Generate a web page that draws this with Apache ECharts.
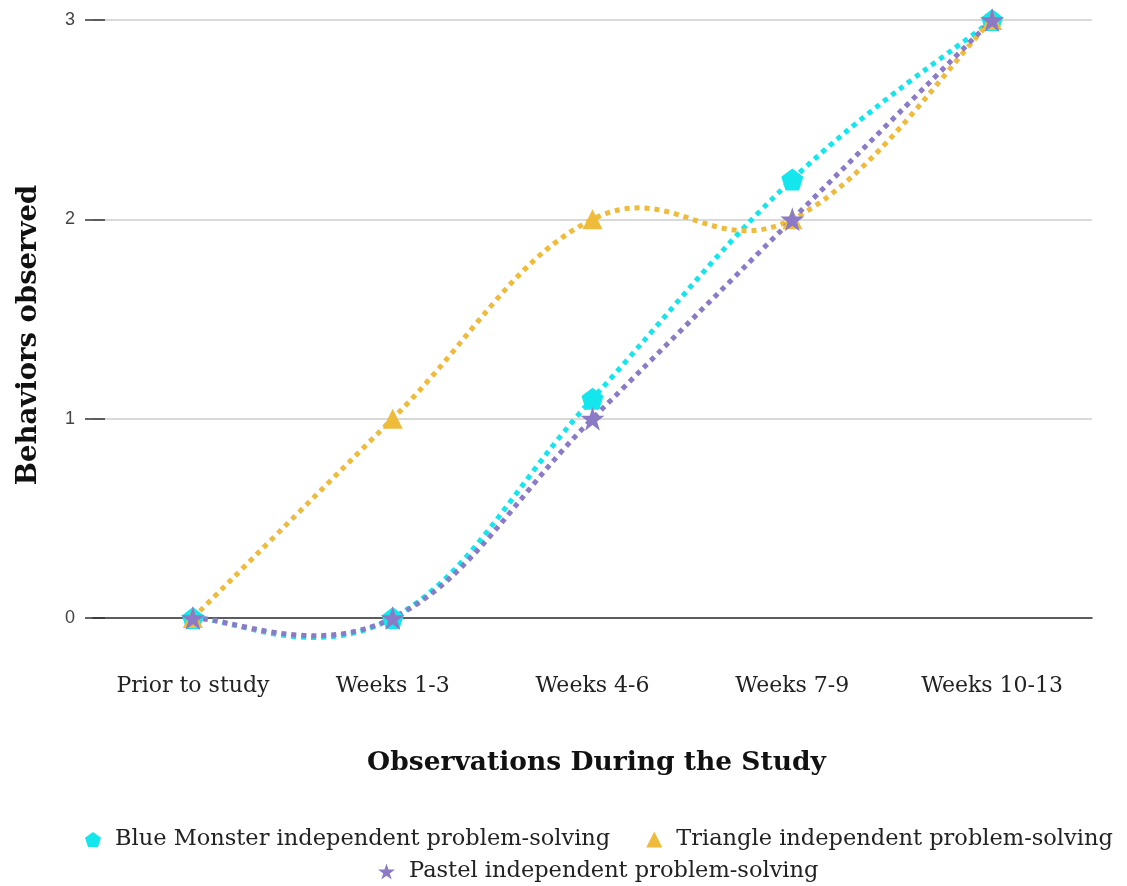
<!DOCTYPE html>
<html>
<head>
<meta charset="utf-8">
<script src="https://cdn.jsdelivr.net/npm/echarts@6/dist/echarts.min.js"></script>
<style>
html, body { margin: 0; padding: 0; background: #fff; }
#main { width: 1127px; height: 886px; }
</style>
</head>
<body>
<div id="main"></div>
<script>
var periods = ['Prior to study', 'Weeks 1-3', 'Weeks 4-6', 'Weeks 7-9', 'Weeks 10-13'];
var seriesNames = ['Blue Monster independent problem-solving', 'Triangle independent problem-solving', 'Pastel independent problem-solving'];
var blueMonster = [0, 0, 1.1, 2.2, 3];
var triangle = [0, 1, 2, 2, 3];
var pastel = [0, 0, 1, 2, 3];
var yTicks = [0, 1, 2, 3];

// marker shapes
var PENTAGON = 'path://M50,0 L97.6,34.5 L79.4,90.5 L20.6,90.5 L2.4,34.5 Z';
var STAR = 'path://M50,0 L61.23,34.55 L97.55,34.55 L68.17,55.9 L79.39,90.45 L50,69.1 L20.61,90.45 L31.83,55.9 L2.45,34.55 L38.77,34.55 Z';
var SERIF = 'DejaVu Serif';
var COLORS = ['#14e6ee', '#efbb3a', '#8b7bc7'];

// curved dotted line through the points (catmull-rom style, overshoots like the original)
function curveSeries(values, color) {
	return {
		type: 'custom',
		data: [0],
		clip: false,
		silent: true,
		z: 2,
		renderItem: function(params, api) {
			var pts = [];
			for (var i = 0; i < values.length; i++) {
				pts.push(api.coord([i, values[i]]));
			}
			var k = 0.2;
			var d = 'M' + pts[0][0] + ',' + pts[0][1];
			for (var i = 0; i < pts.length - 1; i++) {
				var p0 = pts[Math.max(i - 1, 0)], p1 = pts[i];
				var p2 = pts[i + 1], p3 = pts[Math.min(i + 2, pts.length - 1)];
				var c1x = p1[0] + (p2[0] - p0[0]) * k, c1y = p1[1] + (p2[1] - p0[1]) * k;
				var c2x = p2[0] - (p3[0] - p1[0]) * k, c2y = p2[1] - (p3[1] - p1[1]) * k;
				d += ' C' + c1x + ',' + c1y + ' ' + c2x + ',' + c2y + ' ' + p2[0] + ',' + p2[1];
			}
			return {
				type: 'path',
				shape: { pathData: d },
				style: { fill: null, stroke: color, lineWidth: 5, lineDash: [5, 5] }
			};
		}
	};
}

function markerSeries(name, data, color, symbol, size) {
	return {
		name: name,
		type: 'line',
		data: data,
		z: 3,
		symbol: symbol,
		symbolSize: size,
		showSymbol: true,
		clip: false,
		itemStyle: { color: color },
		lineStyle: { width: 0, opacity: 0 }
	};
}

var legendText = { fontFamily: SERIF, fontSize: 22.5, color: '#222', padding: [0, 0, 0, 9] };

var myChart = echarts.init(document.getElementById('main'));
var option = {
	animation: false,
	grid: { left: 93, right: 35, top: 20, bottom: 268 },
	legend: [{
		data: [{ name: seriesNames[0], icon: PENTAGON }, { name: seriesNames[1], icon: 'triangle' }],
		top: 823, left: 80,
		itemGap: 36, itemWidth: 16, itemHeight: 16,
		textStyle: legendText
	}, {
		data: [{ name: seriesNames[2], icon: STAR }],
		top: 855, left: 373,
		itemWidth: 17, itemHeight: 17,
		textStyle: legendText
	}],
	xAxis: {
		type: 'category',
		data: periods,
		boundaryGap: true,
		axisLine: { lineStyle: { color: '#333', width: 1.5 } },
		axisTick: { show: false },
		axisLabel: { margin: 57, fontFamily: SERIF, fontSize: 22, color: '#222' },
		name: 'Observations During the Study',
		nameLocation: 'middle',
		nameGap: 132,
		nameTextStyle: { fontFamily: SERIF, fontSize: 26.5, fontWeight: 'bold', color: '#111', verticalAlign: 'top', padding: [0, 0, 0, 8] }
	},
	yAxis: {
		type: 'value',
		min: yTicks[0], max: yTicks[yTicks.length - 1], interval: 1,
		offset: 8,
		axisLine: { show: false },
		axisTick: { show: true, inside: true, length: 20, lineStyle: { color: '#333', width: 1.5 } },
		axisLabel: { margin: 10, fontFamily: 'Liberation Sans', fontSize: 18, color: '#444' },
		splitLine: { lineStyle: { color: '#ccc', width: 1.5 } },
		name: 'Behaviors observed',
		nameLocation: 'middle',
		nameGap: 42,
		nameTextStyle: { fontFamily: SERIF, fontSize: 27.5, fontWeight: 'bold', color: '#111', padding: [0, 32, 0, 0] }
	},
	series: [
		curveSeries(blueMonster, COLORS[0]),
		curveSeries(triangle, COLORS[1]),
		curveSeries(pastel, COLORS[2]),
		markerSeries(seriesNames[0], blueMonster, COLORS[0], PENTAGON, 22),
		markerSeries(seriesNames[1], triangle, COLORS[1], 'triangle', 20),
		markerSeries(seriesNames[2], pastel, COLORS[2], STAR, 24)
	]
};
myChart.setOption(option);
</script>
</body>
</html>
